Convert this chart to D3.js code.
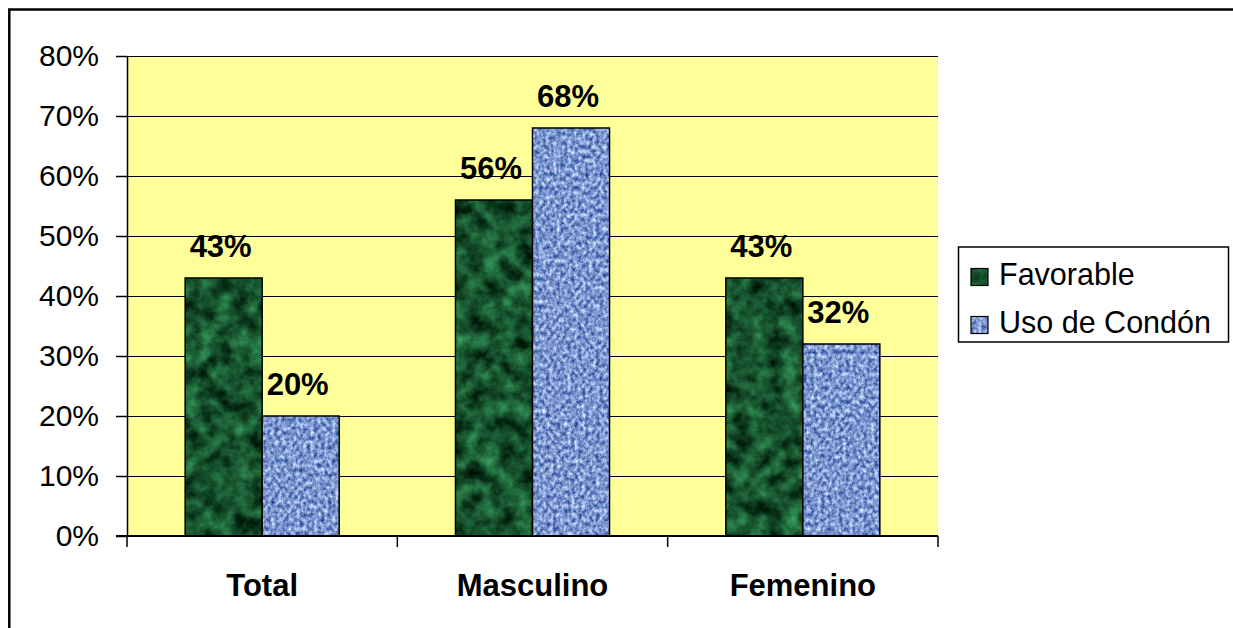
<!DOCTYPE html>
<html>
<head>
<meta charset="utf-8">
<script src="https://cdn.jsdelivr.net/npm/d3@7"></script>
<style>
  html, body { margin: 0; padding: 0; background: #fff; }
  svg { display: block; }
  text { font-family: "Liberation Sans", Arial, sans-serif; }
</style>
</head>
<body>
<svg id="chart" width="1233" height="628"></svg>
<script>
// ---- data ----
const categories = ["Total", "Masculino", "Femenino"];
const seriesNames = ["Favorable", "Uso de Condón"];
const favorable = [0.43, 0.56, 0.43];
const usoCondon = [0.20, 0.68, 0.32];
const yTicks = [0, 0.1, 0.2, 0.3, 0.4, 0.5, 0.6, 0.7, 0.8];

const seriesValues = [favorable, usoCondon];
const svg = d3.select("#chart");

// ---- texture defs ----
const defs = svg.append("defs");
function textureFilter(id, freq, oct, seed, matrix) {
  const f = defs.append("filter").attr("id", id)
    .attr("filterUnits", "userSpaceOnUse")
    .attr("x", 0).attr("y", 0).attr("width", 1233).attr("height", 628)
    .attr("color-interpolation-filters", "sRGB");
  f.append("feTurbulence").attr("type", "fractalNoise")
    .attr("baseFrequency", freq).attr("numOctaves", oct).attr("seed", seed).attr("result", "n");
  f.append("feColorMatrix").attr("type", "matrix").attr("in", "n").attr("values", matrix);
}
textureFilter("fGreen", "0.06", 4, 7,
  "0.32 0 0 0 -0.07  0.75 0 0 0 -0.05  0.48 0 0 0 -0.06  0 0 0 0 1");
textureFilter("fBlue", "0.28 0.22", 3, 11,
  "1.07 0 0 0 -0.05  0.98 0 0 0 0.10  0.68 0 0 0 0.47  0 0 0 0 1");

function texturePattern(id, filterId) {
  const p = defs.append("pattern").attr("id", id)
    .attr("patternUnits", "userSpaceOnUse")
    .attr("x", 0).attr("y", 0).attr("width", 1233).attr("height", 628);
  p.append("rect").attr("width", 1233).attr("height", 628)
    .attr("fill", "#fff").attr("filter", `url(#${filterId})`);
}
texturePattern("pGreen", "fGreen");
texturePattern("pBlue", "fBlue");
const fills = ["url(#pGreen)", "url(#pBlue)"];

// ---- outer frame ----
svg.append("rect").attr("x", 9.3).attr("y", 9.5).attr("width", 1240).attr("height", 640)
  .attr("fill", "none").attr("stroke", "#000").attr("stroke-width", 2.5);

// ---- scales ----
const plot = { left: 127, right: 938, top: 56, bottom: 536 };
const x0 = d3.scaleBand().domain(categories).range([plot.left, plot.right]).paddingInner(0).paddingOuter(0);
const x1 = d3.scaleBand().domain(seriesNames).range([0, x0.bandwidth()]).paddingInner(0).paddingOuter(0.755);
const y = d3.scaleLinear().domain([0, 0.8]).range([plot.bottom, plot.top]);

// plot background
svg.append("rect").attr("x", plot.left).attr("y", plot.top)
  .attr("width", plot.right - plot.left).attr("height", plot.bottom - plot.top)
  .attr("fill", "#FFFF99");

// gridlines
svg.append("g").selectAll("line").data(yTicks.filter(d => d > 0)).join("line")
  .attr("x1", plot.left).attr("x2", plot.right)
  .attr("y1", d => Math.round(y(d)) + 0.5).attr("y2", d => Math.round(y(d)) + 0.5)
  .attr("stroke", "#000").attr("stroke-width", 1.2);

// bars
const barData = [];
categories.forEach((c, i) => {
  seriesNames.forEach((s, j) => barData.push({ c, s, j, v: seriesValues[j][i] }));
});
const bars = svg.append("g");
bars.selectAll("rect").data(barData).join("rect")
  .attr("x", d => x0(d.c) + x1(d.s))
  .attr("y", d => y(d.v))
  .attr("width", x1.bandwidth())
  .attr("height", d => y(0) - y(d.v))
  .attr("fill", d => fills[d.j])
  .attr("stroke", "#000").attr("stroke-width", 1.5);

// data labels
svg.append("g").selectAll("text").data(barData).join("text")
  .attr("x", d => x0(d.c) + x1(d.s) + x1.bandwidth() / 2 - 3)
  .attr("y", d => y(d.v) - 21)
  .attr("text-anchor", "middle")
  .attr("font-size", 31).attr("font-weight", "bold").attr("fill", "#000")
  .text(d => d3.format(".0%")(d.v));

// y axis
const yAxis = svg.append("g").attr("transform", `translate(${plot.left},0)`)
  .call(d3.axisLeft(y).tickValues(yTicks).tickFormat(d3.format(".0%")).tickSize(11).tickSizeOuter(0).tickPadding(17));
yAxis.select(".domain").attr("stroke", "#000").attr("stroke-width", 1.5);
yAxis.selectAll(".tick line").attr("stroke", "#000").attr("stroke-width", 1.5);
yAxis.selectAll(".tick text").attr("font-size", 30).attr("fill", "#000")
  .attr("font-family", "'Liberation Sans', Arial, sans-serif");

// x axis (labels)
const xAxis = svg.append("g").attr("transform", `translate(0,${plot.bottom})`)
  .call(d3.axisBottom(x0).tickSize(0).tickSizeOuter(0).tickPadding(38));
xAxis.select(".domain").remove();
xAxis.selectAll(".tick text").attr("font-size", 31).attr("font-weight", "bold").attr("fill", "#000")
  .attr("font-family", "'Liberation Sans', Arial, sans-serif");
// x axis line + boundary ticks
svg.append("line").attr("x1", plot.left - 11).attr("x2", plot.right)
  .attr("y1", plot.bottom).attr("y2", plot.bottom).attr("stroke", "#000").attr("stroke-width", 2);
const bounds = categories.map(c => x0(c)).concat([x0(categories[categories.length - 1]) + x0.bandwidth()]);
svg.append("g").selectAll("line").data(bounds).join("line")
  .attr("x1", d => d).attr("x2", d => d)
  .attr("y1", plot.bottom).attr("y2", plot.bottom + 11)
  .attr("stroke", "#000").attr("stroke-width", 1.5);

// legend
const lg = svg.append("g");
lg.append("rect").attr("x", 958.5).attr("y", 247).attr("width", 270).attr("height", 95)
  .attr("fill", "#fff").attr("stroke", "#000").attr("stroke-width", 1.5);
const items = lg.selectAll("g.item").data(seriesNames).join("g").attr("class", "item")
  .attr("transform", (d, i) => `translate(0,${i * 48})`);
items.append("rect").attr("x", 971).attr("y", 268.5).attr("width", 17).attr("height", 17)
  .attr("fill", (d, i) => fills[i]).attr("stroke", "#000").attr("stroke-width", 1.2);
items.append("text").attr("x", 999).attr("y", 285).attr("font-size", 30.5).attr("fill", "#000")
  .text(d => d);
</script>
</body>
</html>
